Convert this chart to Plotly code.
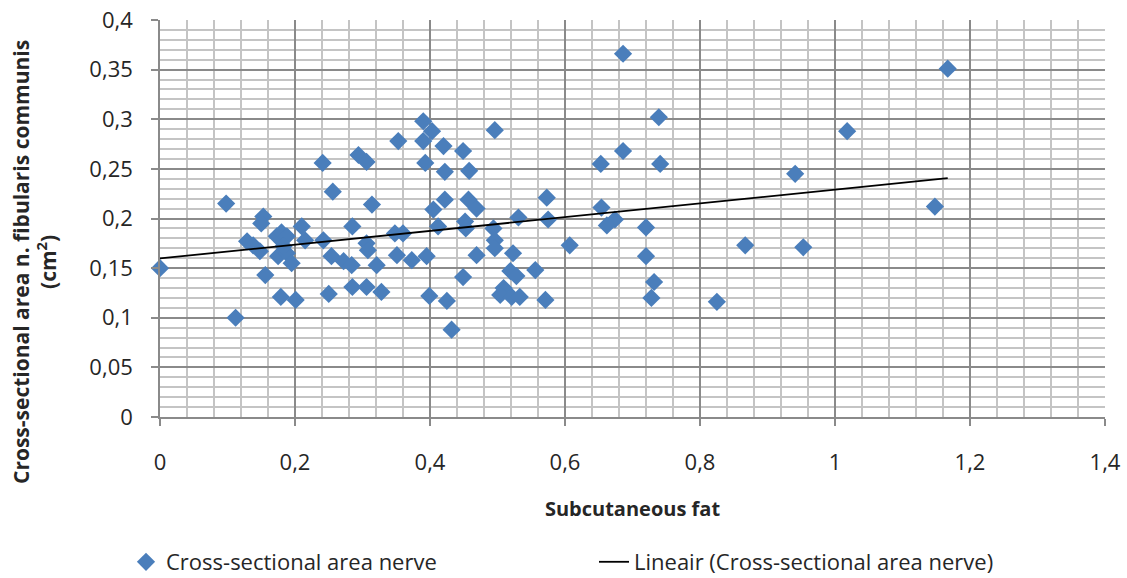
import numpy as np
import plotly.graph_objects as go

# Subcutaneous fat (x) and cross-sectional area (y)
fat = [0.000, 0.098, 0.112, 0.129, 0.138, 0.148, 0.153, 0.150, 0.156, 0.173,
       0.180, 0.188, 0.175, 0.188, 0.195, 0.183, 0.179, 0.201, 0.210, 0.215,
       0.241, 0.256, 0.242, 0.250, 0.254, 0.272, 0.284, 0.285, 0.285, 0.294,
       0.306, 0.314, 0.306, 0.308, 0.306, 0.321, 0.328, 0.353, 0.390, 0.403,
       0.390, 0.420, 0.449, 0.393, 0.422, 0.458, 0.496, 0.573, 0.575, 0.607,
       0.422, 0.405, 0.457, 0.469, 0.452, 0.453, 0.412, 0.531, 0.494, 0.496,
       0.496, 0.348, 0.360, 0.351, 0.373, 0.395, 0.469, 0.523, 0.449, 0.556,
       0.519, 0.528, 0.509, 0.504, 0.521, 0.533, 0.571, 0.399, 0.425, 0.432,
       0.686, 0.739, 0.686, 0.653, 0.741, 0.654, 0.674, 0.662, 0.720, 0.720,
       0.732, 0.728, 0.825, 0.867, 0.941, 0.953, 1.018, 1.148, 1.167]
area = [0.150, 0.215, 0.100, 0.177, 0.173, 0.167, 0.202, 0.195, 0.143, 0.182,
        0.186, 0.182, 0.162, 0.165, 0.155, 0.172, 0.121, 0.118, 0.192, 0.178,
        0.256, 0.227, 0.178, 0.124, 0.162, 0.157, 0.153, 0.131, 0.192, 0.264,
        0.257, 0.214, 0.175, 0.168, 0.131, 0.153, 0.126, 0.278, 0.298, 0.288,
        0.278, 0.273, 0.268, 0.256, 0.247, 0.248, 0.289, 0.221, 0.199, 0.173,
        0.219, 0.209, 0.219, 0.210, 0.197, 0.190, 0.192, 0.201, 0.190, 0.178,
        0.170, 0.185, 0.185, 0.163, 0.158, 0.162, 0.163, 0.165, 0.141, 0.148,
        0.147, 0.142, 0.130, 0.123, 0.121, 0.121, 0.118, 0.122, 0.117, 0.088,
        0.366, 0.302, 0.268, 0.255, 0.255, 0.211, 0.199, 0.193, 0.191, 0.162,
        0.136, 0.120, 0.116, 0.173, 0.245, 0.171, 0.288, 0.212, 0.351]

x_tickvals = [0, 0.2, 0.4, 0.6, 0.8, 1.0, 1.2, 1.4]
x_ticktext = ["0", "0,2", "0,4", "0,6", "0,8", "1", "1,2", "1,4"]
y_tickvals = [0, 0.05, 0.1, 0.15, 0.2, 0.25, 0.3, 0.35, 0.4]
y_ticktext = ["0", "0,05", "0,1", "0,15", "0,2", "0,25", "0,3", "0,35", "0,4"]

series_name = "Cross-sectional area nerve"
trend_name = "Lineair (Cross-sectional area nerve)"
x_title = "Subcutaneous fat"
y_title = "Cross-sectional area n. fibularis communis<br>(cm<sup>2</sup>)"

# linear trendline (least squares), drawn over the data range
slope, intercept = np.polyfit(fat, area, 1)
tx = np.array([min(fat), max(fat)])
ty = intercept + slope * tx

FONT = "Open Sans"
TXT = "#262626"
MAJ = "#8a8a8a"
MIN = "#c4c4c4"
TICK_SIZE = 22
LEG_SIZE = 22

fig = go.Figure()
fig.add_trace(go.Scatter(
    x=fat, y=area, mode="markers", name=series_name,
    marker=dict(symbol="diamond", size=14, color="#4a7ebb", line=dict(width=0)),
    cliponaxis=False, legend="legend",
))
fig.add_trace(go.Scatter(
    x=tx, y=ty, mode="lines", name=trend_name,
    line=dict(color="#000000", width=1.8), legend="legend2",
))

W, H = 1127, 578
L, R, T, B = 160, 22, 20, 161
pw, ph = W - L - R, H - T - B

def px_x(p):
    return (p - L) / pw

def px_y(p):
    return (H - B - p) / ph

fig.update_layout(
    width=W, height=H,
    margin=dict(l=L, r=R, t=T, b=B, autoexpand=False),
    paper_bgcolor="white", plot_bgcolor="white",
    font=dict(family=FONT, size=TICK_SIZE, color=TXT),
    showlegend=True,
    legend=dict(orientation="h", xref="container", yref="container",
                x=126 / W, y=1 - 562 / H, xanchor="left", yanchor="middle",
                font=dict(family=FONT, size=LEG_SIZE, color=TXT), bgcolor="rgba(0,0,0,0)"),
    legend2=dict(orientation="h", xref="container", yref="container",
                 x=594 / W, y=1 - 562 / H, xanchor="left", yanchor="middle",
                 font=dict(family=FONT, size=LEG_SIZE, color=TXT), bgcolor="rgba(0,0,0,0)"),
    xaxis=dict(
        range=[0, 1.4], tickvals=x_tickvals, ticktext=x_ticktext,
        showgrid=True, gridcolor=MAJ, gridwidth=1.6,
        showline=True, linecolor=MAJ, linewidth=1.6, mirror=False,
        ticks="outside", ticklen=7, tickcolor=MAJ, tickwidth=1.6, ticklabelstandoff=18,
        zeroline=False, automargin=False,
        minor=dict(dtick=0.04, tick0=0, showgrid=True, gridcolor=MIN, gridwidth=1.6, ticks=""),
        title=dict(text="<b>" + x_title + "</b>", standoff=27,
                   font=dict(family=FONT, size=20, color=TXT)),
        tickfont=dict(family=FONT, size=TICK_SIZE, color=TXT),
    ),
    yaxis=dict(
        range=[0, 0.4], tickvals=y_tickvals, ticktext=y_ticktext,
        showgrid=True, gridcolor=MAJ, gridwidth=1.6,
        showline=True, linecolor=MAJ, linewidth=1.6,
        ticks="outside", ticklen=7, tickcolor=MAJ, tickwidth=1.6, ticklabelstandoff=14,
        zeroline=False, automargin=False,
        minor=dict(dtick=0.01, tick0=0, showgrid=True, gridcolor=MIN, gridwidth=1.6, ticks=""),
        tickfont=dict(family=FONT, size=TICK_SIZE, color=TXT),
    ),
    annotations=[dict(
        text="<b>" + y_title + "</b>", textangle=-90,
        xref="paper", yref="paper", x=px_x(34), y=px_y(262),
        xanchor="center", yanchor="middle", showarrow=False,
        font=dict(family=FONT, size=21, color=TXT),
    )],
)

fig.write_html("out.html")
